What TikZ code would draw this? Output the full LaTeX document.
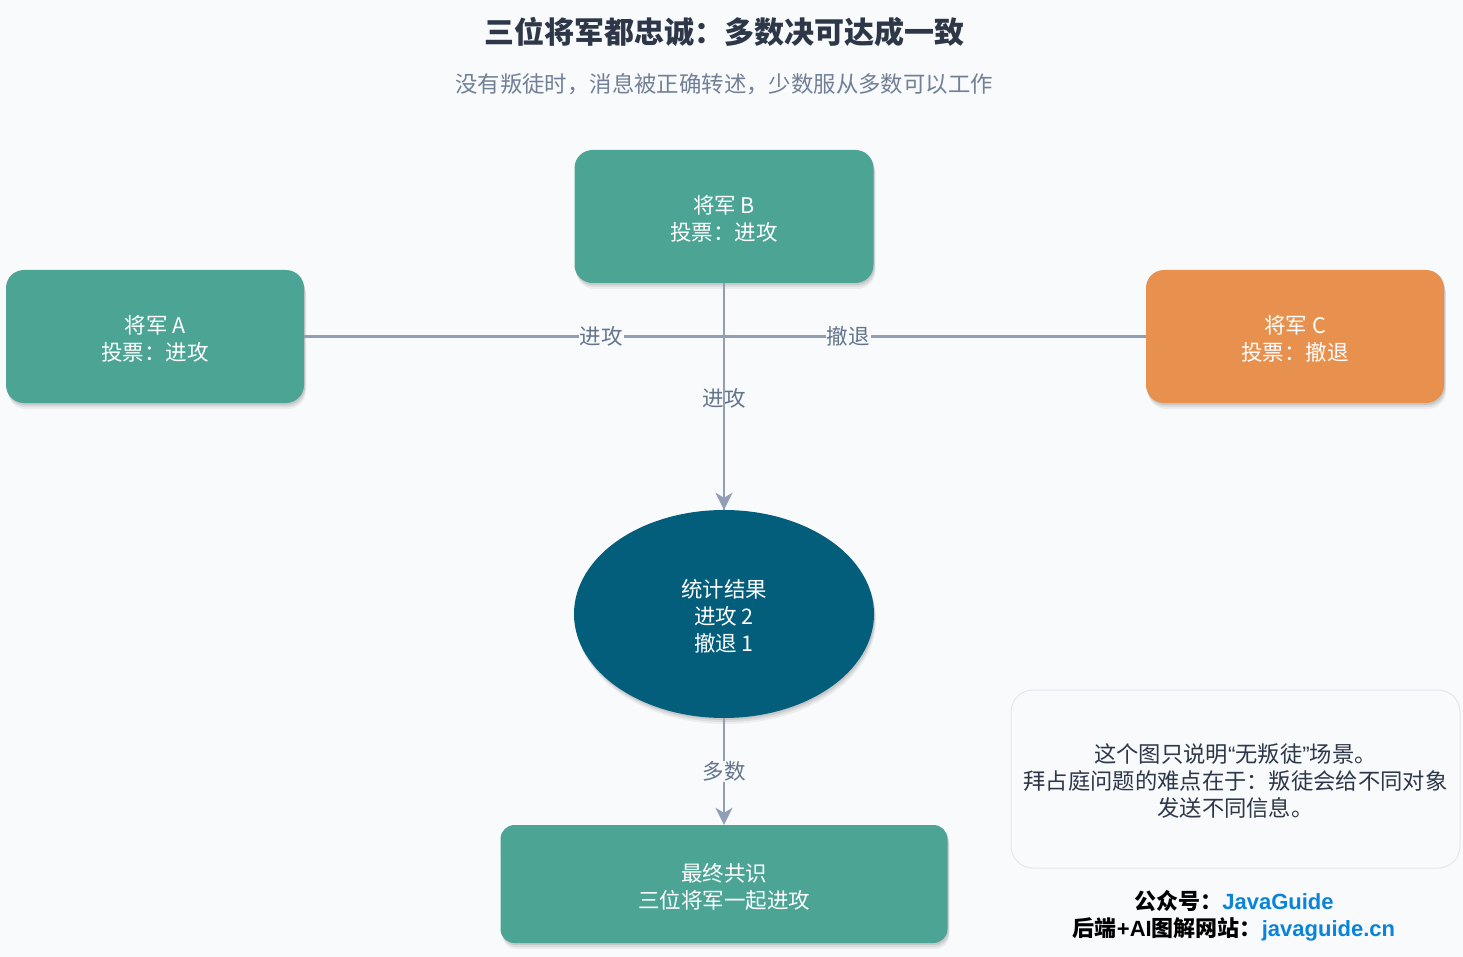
\documentclass[tikz,border=0pt]{standalone}
\usepackage{fontspec}
\setmainfont{Noto Sans CJK SC}
\newfontfamily\lat{Liberation Sans}
\usetikzlibrary{arrows.meta,shadows,shapes.geometric}
\definecolor{bgc}{HTML}{F8FAFC}
\definecolor{teal}{HTML}{4CA594}
\definecolor{orng}{HTML}{E8914F}
\definecolor{dblue}{HTML}{035E7B}
\definecolor{arrc}{HTML}{919EB6}
\definecolor{lblc}{HTML}{64748B}
\definecolor{titc}{HTML}{2D3748}
\definecolor{subc}{HTML}{718096}
\definecolor{notebd}{HTML}{E2E8F0}
\definecolor{linkc}{HTML}{0A84D8}
\newcommand\boxtxt[1]{\raisebox{-5.5pt}[\height][\depth]{\begin{tabular}{@{}c@{}}#1\end{tabular}}}
\begin{document}
\begin{tikzpicture}[x=1pt,y=-1pt,
  shad/.style={
    drop shadow={shadow xshift=2pt, shadow yshift=-6pt, opacity=0.05, fill=black},
    drop shadow={shadow xshift=1.5pt, shadow yshift=-4pt, opacity=0.07, fill=black},
    drop shadow={shadow xshift=1pt, shadow yshift=-2pt, opacity=0.09, fill=black}},
  box/.style={shad, rounded corners=18pt, text=white, align=center, inner sep=0pt,
    font=\fontsize{21.5}{27}\selectfont},
  conn/.style={draw=arrc, line width=2.8pt, -{Stealth[length=17pt,width=17pt,inset=5pt]}},
  plain/.style={draw=arrc, line width=2.8pt},
  lbl/.style={text=lblc, font=\fontsize{21.5}{27}\selectfont, inner sep=1pt},
  lblf/.style={lbl, fill=bgc}
]
\fill[bgc] (0,0) rectangle (1463,957);
\useasboundingbox (0,0) rectangle (1463,957);

\node[text=titc, font=\fontsize{30}{34}\selectfont\bfseries] (title) at (724,32) {三位将军都忠诚：多数决可达成一致};
\node[text=subc, font=\fontsize{22.4}{27}\selectfont] (sub) at (724,84) {没有叛徒时，消息被正确转述，少数服从多数可以工作};

\node[box, fill=teal, minimum width=299pt, minimum height=133pt] (B) at (724,216.5) {\boxtxt{将军 B\\投票：进攻}};
\node[box, fill=teal, minimum width=298pt, minimum height=133pt] (A) at (155,336.5) {\boxtxt{将军 A\\投票：进攻}};
\node[box, fill=orng, minimum width=298pt, minimum height=133pt] (C) at (1295,336.5) {\boxtxt{将军 C\\投票：撤退}};
\node[box, ellipse, fill=dblue, minimum width=300pt, minimum height=208pt] (E) at (724,614) {\boxtxt{统计结果\\进攻 2\\撤退 1}};
\node[box, fill=teal, minimum width=447pt, minimum height=118pt, rounded corners=14pt] (F) at (724,884) {\boxtxt{最终共识\\三位将军一起进攻}};

\node[draw=notebd, line width=1pt, fill=bgc, rounded corners=22pt, minimum width=449pt, minimum height=178pt,
  align=center, text=titc, font=\fontsize{22.3}{27}\selectfont, inner sep=0pt] (N) at (1235.5,779)
  {\boxtxt{这个图只说明{\lat “}无叛徒{\lat ”}场景。\\拜占庭问题的难点在于：叛徒会给不同对象\\发送不同信息。}};

\draw[plain] (A.east) -| (E.north) node[pos=0.354, lblf] {进攻};
\draw[plain] (C.west) -| (E.north) node[pos=0.353, lblf] {撤退};
\draw[conn] (B.south) -- (E.north) node[pos=0.51, lbl] {进攻};
\draw[conn] (E.south) -- (F.north) node[pos=0.5, lblf] {多数};

\node[align=center, font=\fontsize{22}{27}\selectfont\bfseries, text=black] (foot) at (1234,916)
  {公众号：\textcolor{linkc}{\lat\bfseries JavaGuide}\\后端{\lat\bfseries +AI}图解网站：\textcolor{linkc}{\lat\bfseries javaguide.cn}};
\end{tikzpicture}
\end{document}
